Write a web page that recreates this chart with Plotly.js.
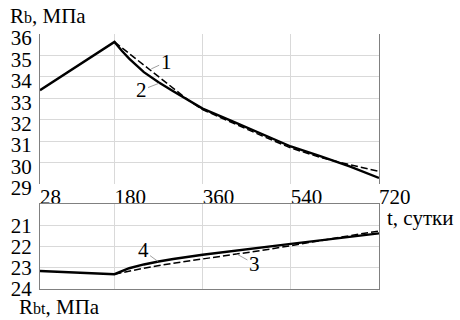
<!DOCTYPE html>
<html>
<head>
<meta charset="utf-8">
<script src="https://cdn.plot.ly/plotly-3.0.1.min.js"></script>
</head>
<body style="margin:0;background:#fff">
<div id="chart" style="width:460px;height:320px"></div>
<script>
// Top panel: Rb, MPa
const tSolid2 = [28, 180, 195, 210, 240, 270, 300, 360, 420, 480, 540, 600, 660, 720];
const rb2 = [33.38, 35.63, 35.22, 34.85, 34.22, 33.75, 33.33, 32.52, 31.93, 31.33, 30.75, 30.3, 29.82, 29.28];
const tDash1 = [180, 240, 300, 330, 360, 420, 480, 540, 600, 660, 720];
const rb1 = [35.63, 34.55, 33.47, 32.93, 32.47, 31.86, 31.26, 30.68, 30.24, 29.9, 29.59];

// Bottom panel: Rbt, MPa
const tSolid4 = [28, 180, 210, 240, 270, 300, 360, 420, 480, 540, 600, 660, 720];
const rbt4 = [23.15, 23.3, 23.02, 22.84, 22.7, 22.58, 22.38, 22.22, 22.04, 21.87, 21.7, 21.53, 21.37];
const tDash3 = [180, 240, 300, 360, 420, 480, 540, 600, 660, 720];
const rbt3 = [23.3, 23.02, 22.78, 22.58, 22.39, 22.18, 21.95, 21.7, 21.48, 21.26];

const xTicks = [28, 180, 360, 540, 720];
const yTicksTop = [29, 30, 31, 32, 33, 34, 35, 36];
const yTicksBottom = [21, 22, 23, 24];

const FONT = 'Times New Roman';
const GRID = '#d9d9d9';
const AXL = '#808080';

const traces = [
  {x: tDash1, y: rb1, xaxis: 'x', yaxis: 'y', mode: 'lines', line: {color: '#000', width: 1.5, dash: '7px,3px'}},
  {x: tSolid2, y: rb2, xaxis: 'x', yaxis: 'y', mode: 'lines', line: {color: '#000', width: 2.4}},
  {x: tDash3, y: rbt3, xaxis: 'x2', yaxis: 'y2', mode: 'lines', line: {color: '#000', width: 1.5, dash: '7px,3px'}},
  {x: tSolid4, y: rbt4, xaxis: 'x2', yaxis: 'y2', mode: 'lines', line: {color: '#000', width: 2.4}}
];

const tickFont = {family: FONT, size: 21, color: '#000'};
const txtFont = {family: FONT, size: 21, color: '#000'};

const layout = {
  width: 460, height: 320,
  margin: {l: 40, r: 81, t: 34, b: 31},
  paper_bgcolor: '#fff', plot_bgcolor: '#fff',
  showlegend: false,
  font: {family: FONT, size: 21, color: '#000'},
  xaxis: {
    domain: [0, 1], anchor: 'y', range: [28, 720], tickmode: 'array', tickvals: xTicks,
    ticktext: xTicks.map(String), showgrid: true, gridcolor: GRID, gridwidth: 1,
    zeroline: false, showline: false, ticks: '', tickfont: tickFont,
    ticklabelposition: 'outside right', ticklabelstandoff: -2
  },
  yaxis: {
    domain: [0.4118, 1], anchor: 'x', range: [29, 36], tickmode: 'array', tickvals: yTicksTop,
    showgrid: true, gridcolor: GRID, zeroline: false, showline: true, linecolor: AXL,
    linewidth: 1, mirror: true, ticks: '', tickfont: tickFont, ticklabelshift: 4,
    ticklabelstandoff: 3
  },
  xaxis2: {
    domain: [0, 1], anchor: 'y2', matches: 'x', range: [28, 720], tickmode: 'array',
    tickvals: xTicks, showticklabels: false, showgrid: true, gridcolor: GRID,
    zeroline: false, showline: true, linecolor: AXL, linewidth: 1, mirror: true, ticks: ''
  },
  yaxis2: {
    domain: [0, 0.332], anchor: 'x2', range: [24, 20], tickmode: 'array', tickvals: yTicksBottom,
    showgrid: true, gridcolor: GRID, zeroline: false, showline: true, linecolor: AXL,
    linewidth: 1, mirror: true, ticks: '', tickfont: tickFont, ticklabelstandoff: 3
  },
  annotations: [
    {xref: 'paper', yref: 'paper', x: -0.0944, y: 1.07, xanchor: 'left', yanchor: 'middle',
     text: 'R<span style="font-size:16px">b</span>, МПа', showarrow: false, font: txtFont},
    {xref: 'paper', yref: 'paper', x: -0.0678, y: -0.072, xanchor: 'left', yanchor: 'middle',
     text: 'R<span style="font-size:16px">bt</span>, МПа', showarrow: false, font: txtFont},
    {xref: 'paper', yref: 'paper', x: 1.0177, y: 0.278, xanchor: 'left', yanchor: 'middle',
     text: 't, сутки', showarrow: false, font: txtFont},
    {xref: 'x', yref: 'y', x: 255, y: 34.37, text: '1', showarrow: true, arrowhead: 0,
     arrowwidth: 0.8, arrowcolor: '#888', ax: 15, ay: -7, font: txtFont},
    {xref: 'x', yref: 'y', x: 271, y: 33.7, text: '2', showarrow: true, arrowhead: 0,
     arrowwidth: 0.8, arrowcolor: '#888', ax: -18, ay: 7, font: txtFont},
    {xref: 'x2', yref: 'y2', x: 269, y: 22.7, text: '4', showarrow: true, arrowhead: 0,
     arrowwidth: 0.8, arrowcolor: '#888', ax: -15, ay: -11, font: txtFont},
    {xref: 'x2', yref: 'y2', x: 429, y: 22.34, text: '3', showarrow: true, arrowhead: 0,
     arrowwidth: 0.8, arrowcolor: '#888', ax: 18, ay: 10, font: txtFont}
  ]
};

Plotly.newPlot('chart', traces, layout, {displayModeBar: false, staticPlot: true});
</script>
</body>
</html>
